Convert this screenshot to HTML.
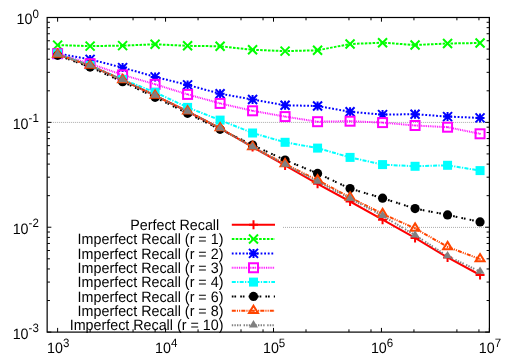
<!DOCTYPE html><html><head><meta charset="utf-8"><style>html,body{margin:0;padding:0;background:#fff}</style></head><body><svg width="515" height="361" viewBox="0 0 515 361" style="display:block;will-change:transform;text-rendering:geometricPrecision;font-family:'Liberation Sans',sans-serif">
<rect width="515" height="361" fill="#fff"/>
<line x1="47.15" y1="122.42" x2="489.4" y2="122.42" stroke="#959595" stroke-width="0.8" stroke-dasharray="1 1"/>
<line x1="283" y1="227.40" x2="489.4" y2="227.40" stroke="#959595" stroke-width="0.8" stroke-dasharray="1 1"/>
<path d="M47.15 17.50h4.2M489.4 17.50h-4.2M47.15 90.80h2.8M489.4 90.80h-2.8M47.15 72.33h2.8M489.4 72.33h-2.8M47.15 59.23h2.8M489.4 59.23h-2.8M47.15 49.07h2.8M489.4 49.07h-2.8M47.15 40.76h2.8M489.4 40.76h-2.8M47.15 33.74h2.8M489.4 33.74h-2.8M47.15 27.66h2.8M489.4 27.66h-2.8M47.15 22.30h2.8M489.4 22.30h-2.8M47.15 122.37h4.2M489.4 122.37h-4.2M47.15 195.67h2.8M489.4 195.67h-2.8M47.15 177.20h2.8M489.4 177.20h-2.8M47.15 164.10h2.8M489.4 164.10h-2.8M47.15 153.93h2.8M489.4 153.93h-2.8M47.15 145.63h2.8M489.4 145.63h-2.8M47.15 138.61h2.8M489.4 138.61h-2.8M47.15 132.53h2.8M489.4 132.53h-2.8M47.15 127.17h2.8M489.4 127.17h-2.8M47.15 227.23h4.2M489.4 227.23h-4.2M47.15 300.53h2.8M489.4 300.53h-2.8M47.15 282.07h2.8M489.4 282.07h-2.8M47.15 268.96h2.8M489.4 268.96h-2.8M47.15 258.80h2.8M489.4 258.80h-2.8M47.15 250.50h2.8M489.4 250.50h-2.8M47.15 243.48h2.8M489.4 243.48h-2.8M47.15 237.40h2.8M489.4 237.40h-2.8M47.15 232.03h2.8M489.4 232.03h-2.8M47.15 332.10h4.2M489.4 332.10h-4.2M57.61 17.5v4.2M57.61 332.1v-4.2M90.11 17.5v2.8M90.11 332.1v-2.8M133.06 17.5v2.8M133.06 332.1v-2.8M155.10 17.5v2.8M155.10 332.1v-2.8M165.56 17.5v4.2M165.56 332.1v-4.2M198.05 17.5v2.8M198.05 332.1v-2.8M241.01 17.5v2.8M241.01 332.1v-2.8M263.04 17.5v2.8M263.04 332.1v-2.8M273.51 17.5v4.2M273.51 332.1v-4.2M306.00 17.5v2.8M306.00 332.1v-2.8M348.96 17.5v2.8M348.96 332.1v-2.8M370.99 17.5v2.8M370.99 332.1v-2.8M381.45 17.5v4.2M381.45 332.1v-4.2M413.95 17.5v2.8M413.95 332.1v-2.8M456.90 17.5v2.8M456.90 332.1v-2.8M478.94 17.5v2.8M478.94 332.1v-2.8M489.40 17.5v4.2M489.40 332.1v-4.2" stroke="#000" stroke-width="1" fill="none"/>
<polyline points="57.61,54.40 90.11,65.60 122.60,80.00 155.10,95.60 187.59,111.50 220.09,128.40 252.58,147.00 285.08,165.40 317.57,183.80 350.07,201.50 382.56,219.70 415.06,237.90 447.56,257.50 480.05,275.00" fill="none" stroke="#ff0000" stroke-width="2.0"/>
<line x1="231.8" y1="224.70" x2="275" y2="224.70" stroke="#ff0000" stroke-width="2.0"/>
<path d="M249.00 224.70H258.00M253.50 220.20V229.20" stroke="#ff0000" stroke-width="2" fill="none"/>
<path d="M53.11 54.40H62.11M57.61 49.90V58.90" stroke="#ff0000" stroke-width="2" fill="none"/>
<path d="M85.61 65.60H94.61M90.11 61.10V70.10" stroke="#ff0000" stroke-width="2" fill="none"/>
<path d="M118.10 80.00H127.10M122.60 75.50V84.50" stroke="#ff0000" stroke-width="2" fill="none"/>
<path d="M150.60 95.60H159.60M155.10 91.10V100.10" stroke="#ff0000" stroke-width="2" fill="none"/>
<path d="M183.09 111.50H192.09M187.59 107.00V116.00" stroke="#ff0000" stroke-width="2" fill="none"/>
<path d="M215.59 128.40H224.59M220.09 123.90V132.90" stroke="#ff0000" stroke-width="2" fill="none"/>
<path d="M248.08 147.00H257.08M252.58 142.50V151.50" stroke="#ff0000" stroke-width="2" fill="none"/>
<path d="M280.58 165.40H289.58M285.08 160.90V169.90" stroke="#ff0000" stroke-width="2" fill="none"/>
<path d="M313.07 183.80H322.07M317.57 179.30V188.30" stroke="#ff0000" stroke-width="2" fill="none"/>
<path d="M345.57 201.50H354.57M350.07 197.00V206.00" stroke="#ff0000" stroke-width="2" fill="none"/>
<path d="M378.06 219.70H387.06M382.56 215.20V224.20" stroke="#ff0000" stroke-width="2" fill="none"/>
<path d="M410.56 237.90H419.56M415.06 233.40V242.40" stroke="#ff0000" stroke-width="2" fill="none"/>
<path d="M443.06 257.50H452.06M447.56 253.00V262.00" stroke="#ff0000" stroke-width="2" fill="none"/>
<path d="M475.55 275.00H484.55M480.05 270.50V279.50" stroke="#ff0000" stroke-width="2" fill="none"/>
<text transform="translate(219.2,229.80) scale(0.953,1)" font-size="15" text-anchor="end" fill="#000">Perfect Recall</text>
<polyline points="57.61,45.10 90.11,46.10 122.60,45.60 155.10,44.30 187.59,45.80 220.09,46.30 252.58,49.80 285.08,51.10 317.57,50.30 350.07,44.00 382.56,42.70 415.06,45.00 447.56,43.50 480.05,43.00" fill="none" stroke="#00ff00" stroke-width="2.0" stroke-dasharray="2.6 1.3"/>
<line x1="231.8" y1="239.05" x2="275" y2="239.05" stroke="#00ff00" stroke-width="2.0" stroke-dasharray="2.6 1.3"/>
<path d="M249.00 234.55L258.00 243.55M249.00 243.55L258.00 234.55" stroke="#00ff00" stroke-width="2" fill="none"/>
<path d="M53.11 40.60L62.11 49.60M53.11 49.60L62.11 40.60" stroke="#00ff00" stroke-width="2" fill="none"/>
<path d="M85.61 41.60L94.61 50.60M85.61 50.60L94.61 41.60" stroke="#00ff00" stroke-width="2" fill="none"/>
<path d="M118.10 41.10L127.10 50.10M118.10 50.10L127.10 41.10" stroke="#00ff00" stroke-width="2" fill="none"/>
<path d="M150.60 39.80L159.60 48.80M150.60 48.80L159.60 39.80" stroke="#00ff00" stroke-width="2" fill="none"/>
<path d="M183.09 41.30L192.09 50.30M183.09 50.30L192.09 41.30" stroke="#00ff00" stroke-width="2" fill="none"/>
<path d="M215.59 41.80L224.59 50.80M215.59 50.80L224.59 41.80" stroke="#00ff00" stroke-width="2" fill="none"/>
<path d="M248.08 45.30L257.08 54.30M248.08 54.30L257.08 45.30" stroke="#00ff00" stroke-width="2" fill="none"/>
<path d="M280.58 46.60L289.58 55.60M280.58 55.60L289.58 46.60" stroke="#00ff00" stroke-width="2" fill="none"/>
<path d="M313.07 45.80L322.07 54.80M313.07 54.80L322.07 45.80" stroke="#00ff00" stroke-width="2" fill="none"/>
<path d="M345.57 39.50L354.57 48.50M345.57 48.50L354.57 39.50" stroke="#00ff00" stroke-width="2" fill="none"/>
<path d="M378.06 38.20L387.06 47.20M378.06 47.20L387.06 38.20" stroke="#00ff00" stroke-width="2" fill="none"/>
<path d="M410.56 40.50L419.56 49.50M410.56 49.50L419.56 40.50" stroke="#00ff00" stroke-width="2" fill="none"/>
<path d="M443.06 39.00L452.06 48.00M443.06 48.00L452.06 39.00" stroke="#00ff00" stroke-width="2" fill="none"/>
<path d="M475.55 38.50L484.55 47.50M475.55 47.50L484.55 38.50" stroke="#00ff00" stroke-width="2" fill="none"/>
<text transform="translate(223.4,244.15) scale(0.953,1)" font-size="15" text-anchor="end" fill="#000">Imperfect Recall (r = 1)</text>
<polyline points="57.61,53.50 90.11,59.40 122.60,67.60 155.10,76.90 187.59,84.90 220.09,93.70 252.58,99.50 285.08,105.30 317.57,106.00 350.07,111.80 382.56,114.60 415.06,114.20 447.56,116.60 480.05,117.90" fill="none" stroke="#0000ff" stroke-width="2.0" stroke-dasharray="1.8 1.8"/>
<line x1="231.8" y1="253.40" x2="275" y2="253.40" stroke="#0000ff" stroke-width="2.0" stroke-dasharray="1.8 1.8"/>
<path d="M249.00 253.40H258.00M253.50 248.90V257.90M249.00 248.90L258.00 257.90M249.00 257.90L258.00 248.90" stroke="#0000ff" stroke-width="2" fill="none"/>
<path d="M53.11 53.50H62.11M57.61 49.00V58.00M53.11 49.00L62.11 58.00M53.11 58.00L62.11 49.00" stroke="#0000ff" stroke-width="2" fill="none"/>
<path d="M85.61 59.40H94.61M90.11 54.90V63.90M85.61 54.90L94.61 63.90M85.61 63.90L94.61 54.90" stroke="#0000ff" stroke-width="2" fill="none"/>
<path d="M118.10 67.60H127.10M122.60 63.10V72.10M118.10 63.10L127.10 72.10M118.10 72.10L127.10 63.10" stroke="#0000ff" stroke-width="2" fill="none"/>
<path d="M150.60 76.90H159.60M155.10 72.40V81.40M150.60 72.40L159.60 81.40M150.60 81.40L159.60 72.40" stroke="#0000ff" stroke-width="2" fill="none"/>
<path d="M183.09 84.90H192.09M187.59 80.40V89.40M183.09 80.40L192.09 89.40M183.09 89.40L192.09 80.40" stroke="#0000ff" stroke-width="2" fill="none"/>
<path d="M215.59 93.70H224.59M220.09 89.20V98.20M215.59 89.20L224.59 98.20M215.59 98.20L224.59 89.20" stroke="#0000ff" stroke-width="2" fill="none"/>
<path d="M248.08 99.50H257.08M252.58 95.00V104.00M248.08 95.00L257.08 104.00M248.08 104.00L257.08 95.00" stroke="#0000ff" stroke-width="2" fill="none"/>
<path d="M280.58 105.30H289.58M285.08 100.80V109.80M280.58 100.80L289.58 109.80M280.58 109.80L289.58 100.80" stroke="#0000ff" stroke-width="2" fill="none"/>
<path d="M313.07 106.00H322.07M317.57 101.50V110.50M313.07 101.50L322.07 110.50M313.07 110.50L322.07 101.50" stroke="#0000ff" stroke-width="2" fill="none"/>
<path d="M345.57 111.80H354.57M350.07 107.30V116.30M345.57 107.30L354.57 116.30M345.57 116.30L354.57 107.30" stroke="#0000ff" stroke-width="2" fill="none"/>
<path d="M378.06 114.60H387.06M382.56 110.10V119.10M378.06 110.10L387.06 119.10M378.06 119.10L387.06 110.10" stroke="#0000ff" stroke-width="2" fill="none"/>
<path d="M410.56 114.20H419.56M415.06 109.70V118.70M410.56 109.70L419.56 118.70M410.56 118.70L419.56 109.70" stroke="#0000ff" stroke-width="2" fill="none"/>
<path d="M443.06 116.60H452.06M447.56 112.10V121.10M443.06 112.10L452.06 121.10M443.06 121.10L452.06 112.10" stroke="#0000ff" stroke-width="2" fill="none"/>
<path d="M475.55 117.90H484.55M480.05 113.40V122.40M475.55 113.40L484.55 122.40M475.55 122.40L484.55 113.40" stroke="#0000ff" stroke-width="2" fill="none"/>
<text transform="translate(223.4,258.50) scale(0.953,1)" font-size="15" text-anchor="end" fill="#000">Imperfect Recall (r = 2)</text>
<polyline points="57.61,53.70 90.11,63.70 122.60,74.90 155.10,84.30 187.59,94.40 220.09,103.40 252.58,110.80 285.08,116.60 317.57,121.70 350.07,121.20 382.56,122.60 415.06,125.50 447.56,127.20 480.05,133.80" fill="none" stroke="#ff00ff" stroke-width="2.0" stroke-dasharray="0.9 0.9"/>
<line x1="231.8" y1="267.75" x2="275" y2="267.75" stroke="#ff00ff" stroke-width="2.0" stroke-dasharray="0.9 0.9"/>
<rect x="249.00" y="263.25" width="9.00" height="9.00" stroke="#ff00ff" stroke-width="2" fill="none"/><rect x="252.80" y="267.05" width="1.4" height="1.4" fill="#ff00ff"/>
<rect x="53.11" y="49.20" width="9.00" height="9.00" stroke="#ff00ff" stroke-width="2" fill="none"/><rect x="56.91" y="53.00" width="1.4" height="1.4" fill="#ff00ff"/>
<rect x="85.61" y="59.20" width="9.00" height="9.00" stroke="#ff00ff" stroke-width="2" fill="none"/><rect x="89.41" y="63.00" width="1.4" height="1.4" fill="#ff00ff"/>
<rect x="118.10" y="70.40" width="9.00" height="9.00" stroke="#ff00ff" stroke-width="2" fill="none"/><rect x="121.90" y="74.20" width="1.4" height="1.4" fill="#ff00ff"/>
<rect x="150.60" y="79.80" width="9.00" height="9.00" stroke="#ff00ff" stroke-width="2" fill="none"/><rect x="154.40" y="83.60" width="1.4" height="1.4" fill="#ff00ff"/>
<rect x="183.09" y="89.90" width="9.00" height="9.00" stroke="#ff00ff" stroke-width="2" fill="none"/><rect x="186.89" y="93.70" width="1.4" height="1.4" fill="#ff00ff"/>
<rect x="215.59" y="98.90" width="9.00" height="9.00" stroke="#ff00ff" stroke-width="2" fill="none"/><rect x="219.39" y="102.70" width="1.4" height="1.4" fill="#ff00ff"/>
<rect x="248.08" y="106.30" width="9.00" height="9.00" stroke="#ff00ff" stroke-width="2" fill="none"/><rect x="251.88" y="110.10" width="1.4" height="1.4" fill="#ff00ff"/>
<rect x="280.58" y="112.10" width="9.00" height="9.00" stroke="#ff00ff" stroke-width="2" fill="none"/><rect x="284.38" y="115.90" width="1.4" height="1.4" fill="#ff00ff"/>
<rect x="313.07" y="117.20" width="9.00" height="9.00" stroke="#ff00ff" stroke-width="2" fill="none"/><rect x="316.87" y="121.00" width="1.4" height="1.4" fill="#ff00ff"/>
<rect x="345.57" y="116.70" width="9.00" height="9.00" stroke="#ff00ff" stroke-width="2" fill="none"/><rect x="349.37" y="120.50" width="1.4" height="1.4" fill="#ff00ff"/>
<rect x="378.06" y="118.10" width="9.00" height="9.00" stroke="#ff00ff" stroke-width="2" fill="none"/><rect x="381.86" y="121.90" width="1.4" height="1.4" fill="#ff00ff"/>
<rect x="410.56" y="121.00" width="9.00" height="9.00" stroke="#ff00ff" stroke-width="2" fill="none"/><rect x="414.36" y="124.80" width="1.4" height="1.4" fill="#ff00ff"/>
<rect x="443.06" y="122.70" width="9.00" height="9.00" stroke="#ff00ff" stroke-width="2" fill="none"/><rect x="446.86" y="126.50" width="1.4" height="1.4" fill="#ff00ff"/>
<rect x="475.55" y="129.30" width="9.00" height="9.00" stroke="#ff00ff" stroke-width="2" fill="none"/><rect x="479.35" y="133.10" width="1.4" height="1.4" fill="#ff00ff"/>
<text transform="translate(223.4,272.85) scale(0.953,1)" font-size="15" text-anchor="end" fill="#000">Imperfect Recall (r = 3)</text>
<polyline points="57.61,53.80 90.11,65.50 122.60,79.50 155.10,92.30 187.59,107.40 220.09,120.10 252.58,133.00 285.08,142.30 317.57,148.10 350.07,157.40 382.56,164.60 415.06,166.30 447.56,165.30 480.05,170.60" fill="none" stroke="#00ffff" stroke-width="2.0" stroke-dasharray="4 1.3 1.3 1.3"/>
<line x1="231.8" y1="282.10" x2="275" y2="282.10" stroke="#00ffff" stroke-width="2.0" stroke-dasharray="4 1.3 1.3 1.3"/>
<rect x="249.00" y="277.60" width="9.00" height="9.00" fill="#00ffff"/>
<rect x="53.11" y="49.30" width="9.00" height="9.00" fill="#00ffff"/>
<rect x="85.61" y="61.00" width="9.00" height="9.00" fill="#00ffff"/>
<rect x="118.10" y="75.00" width="9.00" height="9.00" fill="#00ffff"/>
<rect x="150.60" y="87.80" width="9.00" height="9.00" fill="#00ffff"/>
<rect x="183.09" y="102.90" width="9.00" height="9.00" fill="#00ffff"/>
<rect x="215.59" y="115.60" width="9.00" height="9.00" fill="#00ffff"/>
<rect x="248.08" y="128.50" width="9.00" height="9.00" fill="#00ffff"/>
<rect x="280.58" y="137.80" width="9.00" height="9.00" fill="#00ffff"/>
<rect x="313.07" y="143.60" width="9.00" height="9.00" fill="#00ffff"/>
<rect x="345.57" y="152.90" width="9.00" height="9.00" fill="#00ffff"/>
<rect x="378.06" y="160.10" width="9.00" height="9.00" fill="#00ffff"/>
<rect x="410.56" y="161.80" width="9.00" height="9.00" fill="#00ffff"/>
<rect x="443.06" y="160.80" width="9.00" height="9.00" fill="#00ffff"/>
<rect x="475.55" y="166.10" width="9.00" height="9.00" fill="#00ffff"/>
<text transform="translate(223.4,287.20) scale(0.953,1)" font-size="15" text-anchor="end" fill="#000">Imperfect Recall (r = 4)</text>
<polyline points="57.61,55.30 90.11,67.10 122.60,81.70 155.10,97.30 187.59,113.30 220.09,129.30 252.58,145.00 285.08,160.10 317.57,173.40 350.07,188.60 382.56,198.20 415.06,208.60 447.56,214.90 480.05,221.90" fill="none" stroke="#000000" stroke-width="2.0" stroke-dasharray="1.7 0.9 1.7 4.1"/>
<line x1="231.8" y1="296.45" x2="275" y2="296.45" stroke="#000000" stroke-width="2.0" stroke-dasharray="1.7 0.9 1.7 4.1"/>
<circle cx="253.50" cy="296.45" r="4.60" fill="#000000"/>
<circle cx="57.61" cy="55.30" r="4.60" fill="#000000"/>
<circle cx="90.11" cy="67.10" r="4.60" fill="#000000"/>
<circle cx="122.60" cy="81.70" r="4.60" fill="#000000"/>
<circle cx="155.10" cy="97.30" r="4.60" fill="#000000"/>
<circle cx="187.59" cy="113.30" r="4.60" fill="#000000"/>
<circle cx="220.09" cy="129.30" r="4.60" fill="#000000"/>
<circle cx="252.58" cy="145.00" r="4.60" fill="#000000"/>
<circle cx="285.08" cy="160.10" r="4.60" fill="#000000"/>
<circle cx="317.57" cy="173.40" r="4.60" fill="#000000"/>
<circle cx="350.07" cy="188.60" r="4.60" fill="#000000"/>
<circle cx="382.56" cy="198.20" r="4.60" fill="#000000"/>
<circle cx="415.06" cy="208.60" r="4.60" fill="#000000"/>
<circle cx="447.56" cy="214.90" r="4.60" fill="#000000"/>
<circle cx="480.05" cy="221.90" r="4.60" fill="#000000"/>
<text transform="translate(223.4,301.55) scale(0.953,1)" font-size="15" text-anchor="end" fill="#000">Imperfect Recall (r = 6)</text>
<polyline points="57.61,54.40 90.11,65.50 122.60,79.90 155.10,95.50 187.59,111.30 220.09,128.10 252.58,146.90 285.08,164.00 317.57,180.10 350.07,197.40 382.56,213.90 415.06,228.40 447.56,246.90 480.05,259.10" fill="none" stroke="#ff4500" stroke-width="2.0" stroke-dasharray="4 1.1 1.1 1.1 1.1 1.1"/>
<line x1="231.8" y1="310.80" x2="275" y2="310.80" stroke="#ff4500" stroke-width="2.0" stroke-dasharray="4 1.1 1.1 1.1 1.1 1.1"/>
<path d="M253.50 305.76L258.00 313.05H249.00Z" stroke="#ff4500" stroke-width="2" fill="none" stroke-linejoin="miter"/><rect x="252.80" y="310.10" width="1.4" height="1.4" fill="#ff4500"/>
<path d="M57.61 49.36L62.11 56.65H53.11Z" stroke="#ff4500" stroke-width="2" fill="none" stroke-linejoin="miter"/><rect x="56.91" y="53.70" width="1.4" height="1.4" fill="#ff4500"/>
<path d="M90.11 60.46L94.61 67.75H85.61Z" stroke="#ff4500" stroke-width="2" fill="none" stroke-linejoin="miter"/><rect x="89.41" y="64.80" width="1.4" height="1.4" fill="#ff4500"/>
<path d="M122.60 74.86L127.10 82.15H118.10Z" stroke="#ff4500" stroke-width="2" fill="none" stroke-linejoin="miter"/><rect x="121.90" y="79.20" width="1.4" height="1.4" fill="#ff4500"/>
<path d="M155.10 90.46L159.60 97.75H150.60Z" stroke="#ff4500" stroke-width="2" fill="none" stroke-linejoin="miter"/><rect x="154.40" y="94.80" width="1.4" height="1.4" fill="#ff4500"/>
<path d="M187.59 106.26L192.09 113.55H183.09Z" stroke="#ff4500" stroke-width="2" fill="none" stroke-linejoin="miter"/><rect x="186.89" y="110.60" width="1.4" height="1.4" fill="#ff4500"/>
<path d="M220.09 123.06L224.59 130.35H215.59Z" stroke="#ff4500" stroke-width="2" fill="none" stroke-linejoin="miter"/><rect x="219.39" y="127.40" width="1.4" height="1.4" fill="#ff4500"/>
<path d="M252.58 141.86L257.08 149.15H248.08Z" stroke="#ff4500" stroke-width="2" fill="none" stroke-linejoin="miter"/><rect x="251.88" y="146.20" width="1.4" height="1.4" fill="#ff4500"/>
<path d="M285.08 158.96L289.58 166.25H280.58Z" stroke="#ff4500" stroke-width="2" fill="none" stroke-linejoin="miter"/><rect x="284.38" y="163.30" width="1.4" height="1.4" fill="#ff4500"/>
<path d="M317.57 175.06L322.07 182.35H313.07Z" stroke="#ff4500" stroke-width="2" fill="none" stroke-linejoin="miter"/><rect x="316.87" y="179.40" width="1.4" height="1.4" fill="#ff4500"/>
<path d="M350.07 192.36L354.57 199.65H345.57Z" stroke="#ff4500" stroke-width="2" fill="none" stroke-linejoin="miter"/><rect x="349.37" y="196.70" width="1.4" height="1.4" fill="#ff4500"/>
<path d="M382.56 208.86L387.06 216.15H378.06Z" stroke="#ff4500" stroke-width="2" fill="none" stroke-linejoin="miter"/><rect x="381.86" y="213.20" width="1.4" height="1.4" fill="#ff4500"/>
<path d="M415.06 223.36L419.56 230.65H410.56Z" stroke="#ff4500" stroke-width="2" fill="none" stroke-linejoin="miter"/><rect x="414.36" y="227.70" width="1.4" height="1.4" fill="#ff4500"/>
<path d="M447.56 241.86L452.06 249.15H443.06Z" stroke="#ff4500" stroke-width="2" fill="none" stroke-linejoin="miter"/><rect x="446.86" y="246.20" width="1.4" height="1.4" fill="#ff4500"/>
<path d="M480.05 254.06L484.55 261.35H475.55Z" stroke="#ff4500" stroke-width="2" fill="none" stroke-linejoin="miter"/><rect x="479.35" y="258.40" width="1.4" height="1.4" fill="#ff4500"/>
<text transform="translate(223.4,315.90) scale(0.953,1)" font-size="15" text-anchor="end" fill="#000">Imperfect Recall (r = 8)</text>
<polyline points="57.61,54.40 90.11,65.60 122.60,80.00 155.10,95.60 187.59,111.40 220.09,128.20 252.58,147.10 285.08,164.60 317.57,181.60 350.07,198.60 382.56,215.80 415.06,235.20 447.56,256.10 480.05,271.60" fill="none" stroke="#808080" stroke-width="2.0" stroke-dasharray="1.4 1.2 1.4 1.2 1.4 1.2 1.4 2.6"/>
<line x1="231.8" y1="325.15" x2="275" y2="325.15" stroke="#808080" stroke-width="2.0" stroke-dasharray="1.4 1.2 1.4 1.2 1.4 1.2 1.4 2.6"/>
<path d="M253.50 320.11L258.00 327.40H249.00Z" fill="#808080"/>
<path d="M57.61 49.36L62.11 56.65H53.11Z" fill="#808080"/>
<path d="M90.11 60.56L94.61 67.85H85.61Z" fill="#808080"/>
<path d="M122.60 74.96L127.10 82.25H118.10Z" fill="#808080"/>
<path d="M155.10 90.56L159.60 97.85H150.60Z" fill="#808080"/>
<path d="M187.59 106.36L192.09 113.65H183.09Z" fill="#808080"/>
<path d="M220.09 123.16L224.59 130.45H215.59Z" fill="#808080"/>
<path d="M252.58 142.06L257.08 149.35H248.08Z" fill="#808080"/>
<path d="M285.08 159.56L289.58 166.85H280.58Z" fill="#808080"/>
<path d="M317.57 176.56L322.07 183.85H313.07Z" fill="#808080"/>
<path d="M350.07 193.56L354.57 200.85H345.57Z" fill="#808080"/>
<path d="M382.56 210.76L387.06 218.05H378.06Z" fill="#808080"/>
<path d="M415.06 230.16L419.56 237.45H410.56Z" fill="#808080"/>
<path d="M447.56 251.06L452.06 258.35H443.06Z" fill="#808080"/>
<path d="M480.05 266.56L484.55 273.85H475.55Z" fill="#808080"/>
<text transform="translate(223.4,330.25) scale(0.953,1)" font-size="15" text-anchor="end" fill="#000">Imperfect Recall (r = 10)</text>
<rect x="47.15" y="17.5" width="442.25" height="314.60" fill="none" stroke="#000" stroke-width="1.2"/>
<text transform="translate(38.80,24.10) scale(0.953,1)" font-size="15" text-anchor="end" fill="#000">10<tspan font-size="12.1" dy="-6.6">0</tspan></text>
<text transform="translate(38.80,128.97) scale(0.953,1)" font-size="15" text-anchor="end" fill="#000">10<tspan font-size="12.1" dy="-6.6">-1</tspan></text>
<text transform="translate(38.80,233.83) scale(0.953,1)" font-size="15" text-anchor="end" fill="#000">10<tspan font-size="12.1" dy="-6.6">-2</tspan></text>
<text transform="translate(38.80,338.70) scale(0.953,1)" font-size="15" text-anchor="end" fill="#000">10<tspan font-size="12.1" dy="-6.6">-3</tspan></text>
<text transform="translate(58.21,353.20) scale(0.953,1)" font-size="15" text-anchor="middle" fill="#000">10<tspan font-size="12.1" dy="-6.6">3</tspan></text>
<text transform="translate(166.16,353.20) scale(0.953,1)" font-size="15" text-anchor="middle" fill="#000">10<tspan font-size="12.1" dy="-6.6">4</tspan></text>
<text transform="translate(274.11,353.20) scale(0.953,1)" font-size="15" text-anchor="middle" fill="#000">10<tspan font-size="12.1" dy="-6.6">5</tspan></text>
<text transform="translate(382.05,353.20) scale(0.953,1)" font-size="15" text-anchor="middle" fill="#000">10<tspan font-size="12.1" dy="-6.6">6</tspan></text>
<text transform="translate(490.00,353.20) scale(0.953,1)" font-size="15" text-anchor="middle" fill="#000">10<tspan font-size="12.1" dy="-6.6">7</tspan></text>
</svg></body></html>
